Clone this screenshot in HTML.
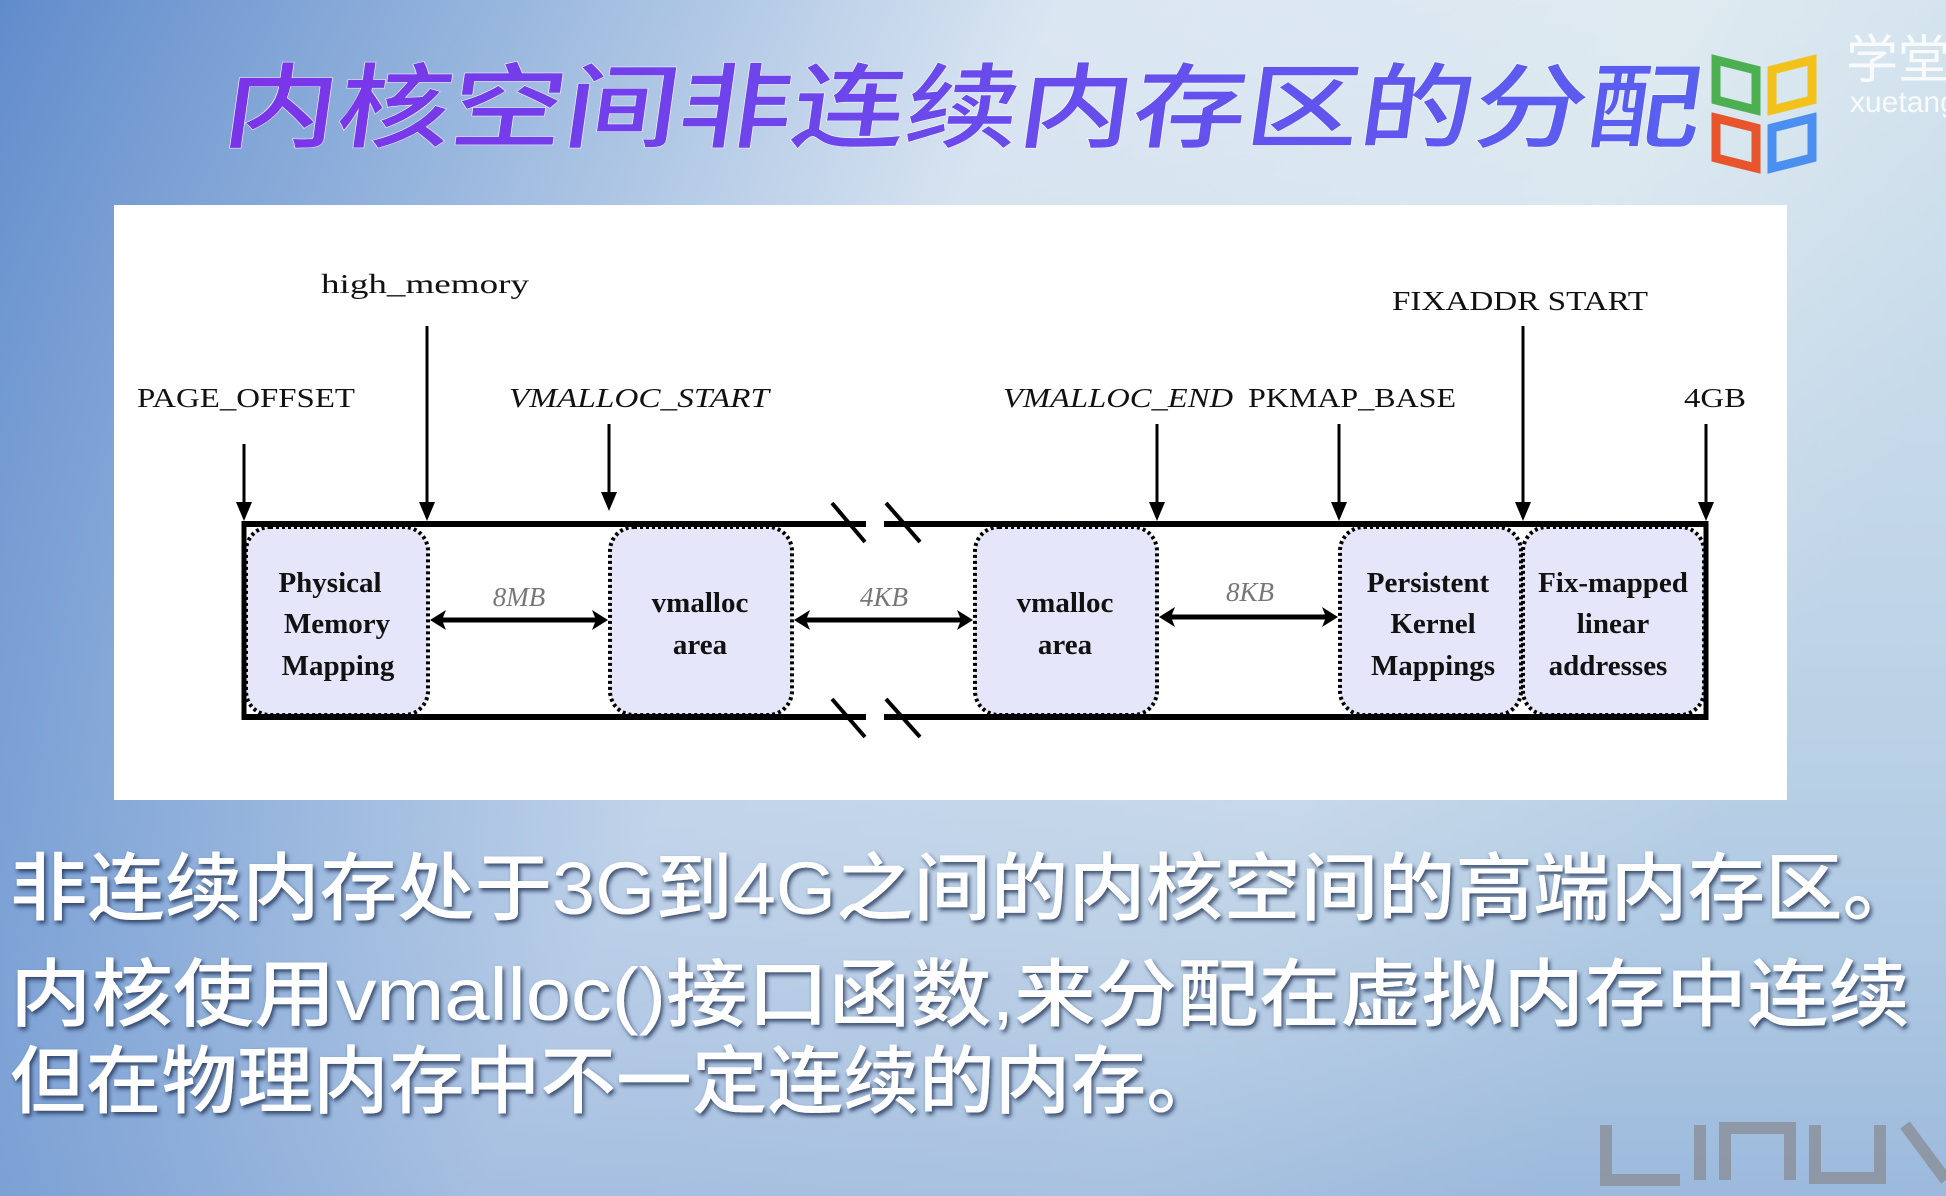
<!DOCTYPE html>
<html><head><meta charset="utf-8"><style>
html,body{margin:0;padding:0;width:1946px;height:1196px;overflow:hidden}
svg{display:block}
</style></head><body>
<svg width="1946" height="1196" viewBox="0 0 1946 1196" xmlns="http://www.w3.org/2000/svg">
<defs>
<linearGradient id="bg" x1="0" y1="0" x2="1" y2="0.3">
<stop offset="0" stop-color="#4f7fc6"/>
<stop offset="0.25" stop-color="#8fb0db"/>
<stop offset="0.5" stop-color="#d6e3f0"/>
<stop offset="0.8" stop-color="#dbe8ef"/>
<stop offset="1" stop-color="#c8dcea"/>
</linearGradient>
<linearGradient id="bg2" x1="0" y1="0" x2="0" y2="1">
<stop offset="0" stop-color="#ffffff" stop-opacity="0.1"/>
<stop offset="0.7" stop-color="#6a93cf" stop-opacity="0.2"/>
<stop offset="1" stop-color="#4a7ac4" stop-opacity="0.35"/>
</linearGradient>
<linearGradient id="tg" x1="0" y1="0" x2="1" y2="0">
<stop offset="0" stop-color="#7b34e8"/>
<stop offset="1" stop-color="#5860f0"/>
</linearGradient>
<filter id="sh"><feDropShadow dx="2" dy="3" stdDeviation="2" flood-color="#1a2a50" flood-opacity="0.8"/></filter>
</defs>
<rect width="1946" height="1196" fill="url(#bg)"/>
<rect width="1946" height="1196" fill="url(#bg2)"/>
<!-- title -->
<text x="223" y="140" textLength="1477" lengthAdjust="spacingAndGlyphs" font-family="'Noto Sans CJK SC',sans-serif" font-size="92" font-weight="500" fill="url(#tg)" transform="skewX(-8) translate(17,0)" stroke="#ffffff" stroke-width="1" paint-order="stroke">内核空间非连续内存区的分配</text>
<!-- logo -->
<g stroke-width="9" fill="none">
<path d="M1716 60 L1756 70 L1756 110 L1716 100 Z" stroke="#4caf50"/>
<path d="M1772 70 L1812 60 L1812 100 L1772 110 Z" stroke="#f2c21b"/>
<path d="M1716 118 L1756 128 L1756 168 L1716 158 Z" stroke="#e8542c"/>
<path d="M1772 128 L1812 118 L1812 158 L1772 168 Z" stroke="#4b8ff0"/>
</g>
<text x="1846" y="78" font-family="'Noto Sans CJK SC',sans-serif" font-size="52" fill="#ffffff" opacity="0.85">学堂</text>
<text x="1850" y="112" font-family="'Liberation Sans',sans-serif" font-size="30" fill="#ffffff" opacity="0.85">xuetang</text>
<!-- white panel -->
<rect x="114" y="205" width="1673" height="595" fill="#ffffff"/>
<!-- labels -->
<g font-family="'Liberation Serif',serif" font-size="27" fill="#111">
<text x="321" y="293" textLength="208" lengthAdjust="spacingAndGlyphs">high_memory</text>
<text x="137" y="407" textLength="218" lengthAdjust="spacingAndGlyphs">PAGE_OFFSET</text>
<text x="509" y="407" font-style="italic" textLength="260" lengthAdjust="spacingAndGlyphs">VMALLOC_START</text>
<text x="1003" y="407" font-style="italic" textLength="230" lengthAdjust="spacingAndGlyphs">VMALLOC_END</text>
<text x="1248" y="407" textLength="208" lengthAdjust="spacingAndGlyphs">PKMAP_BASE</text>
<text x="1392" y="310" textLength="256" lengthAdjust="spacingAndGlyphs">FIXADDR  START</text>
<text x="1684" y="407" textLength="62" lengthAdjust="spacingAndGlyphs">4GB</text>
</g>
<!-- boxes -->
<g fill="#e6e6fa" stroke="#000" stroke-width="4" stroke-dasharray="3,3">
<rect x="246" y="527" width="182" height="188" rx="24"/>
<rect x="610" y="527" width="182" height="188" rx="24"/>
<rect x="975" y="527" width="182" height="188" rx="24"/>
<rect x="1340" y="527" width="181" height="188" rx="24"/>
<rect x="1523" y="527" width="181" height="188" rx="24"/>
</g>
<!-- frame lines -->
<g stroke="#000" stroke-width="6" fill="none">
<line x1="244" y1="524" x2="866" y2="524"/>
<line x1="884" y1="524" x2="1706" y2="524"/>
<line x1="244" y1="717" x2="866" y2="717"/>
<line x1="884" y1="717" x2="1706" y2="717"/>
<line x1="244" y1="521" x2="244" y2="720" stroke-width="5"/>
<line x1="1706" y1="521" x2="1706" y2="720" stroke-width="5"/>
</g>
<g stroke="#000" stroke-width="4">
<line x1="832" y1="503" x2="865" y2="542"/>
<line x1="886" y1="503" x2="920" y2="542"/>
<line x1="832" y1="699" x2="865" y2="737"/>
<line x1="886" y1="699" x2="920" y2="737"/>
</g>
<!-- down arrows -->
<g stroke="#000" stroke-width="3">
<line x1="244" y1="444" x2="244" y2="510"/>
<line x1="427" y1="326" x2="427" y2="510"/>
<line x1="609" y1="424" x2="609" y2="500"/>
<line x1="1157" y1="424" x2="1157" y2="510"/>
<line x1="1339" y1="424" x2="1339" y2="510"/>
<line x1="1523" y1="326" x2="1523" y2="510"/>
<line x1="1706" y1="424" x2="1706" y2="510"/>
</g>
<g fill="#000">
<path d="M236 502 L252 502 L244 521 Z"/>
<path d="M419 502 L435 502 L427 521 Z"/>
<path d="M601 492 L617 492 L609 511 Z"/>
<path d="M1149 502 L1165 502 L1157 521 Z"/>
<path d="M1331 502 L1347 502 L1339 521 Z"/>
<path d="M1515 502 L1531 502 L1523 521 Z"/>
<path d="M1698 502 L1714 502 L1706 521 Z"/>
</g>
<!-- double arrows -->
<g stroke="#000" stroke-width="5">
<line x1="436" y1="620" x2="602" y2="620"/>
<line x1="800" y1="620" x2="967" y2="620"/>
<line x1="1165" y1="617" x2="1332" y2="617"/>
</g>
<g fill="#000">
<path d="M430 620 L446 610 L442 620 L446 630 Z"/><path d="M608 620 L592 610 L596 620 L592 630 Z"/>
<path d="M794 620 L810 610 L806 620 L810 630 Z"/><path d="M973 620 L957 610 L961 620 L957 630 Z"/>
<path d="M1159 617 L1175 607 L1171 617 L1175 627 Z"/><path d="M1338 617 L1322 607 L1326 617 L1322 627 Z"/>
</g>
<g font-family="'Liberation Serif',serif" font-size="27" fill="#777" font-style="italic" text-anchor="middle">
<text x="519" y="606">8MB</text>
<text x="884" y="606">4KB</text>
<text x="1250" y="601">8KB</text>
</g>
<!-- box text -->
<g font-family="'Liberation Serif',serif" font-size="29" font-weight="bold" fill="#111" text-anchor="middle">
<text x="330" y="592">Physical</text><text x="337" y="633">Memory</text><text x="338" y="675">Mapping</text>
<text x="700" y="612">vmalloc</text><text x="700" y="654">area</text>
<text x="1065" y="612">vmalloc</text><text x="1065" y="654">area</text>
<text x="1428" y="592">Persistent</text><text x="1433" y="633">Kernel</text><text x="1433" y="675">Mappings</text>
<text x="1613" y="592">Fix-mapped</text><text x="1613" y="633">linear</text><text x="1608" y="675">addresses</text>
</g>
<!-- bottom text -->
<g font-family="'Liberation Sans','Noto Sans CJK SC',sans-serif" font-size="74" font-weight="500" fill="#ffffff" filter="url(#sh)">
<text x="10" y="914" textLength="1910" lengthAdjust="spacingAndGlyphs">非连续内存处于3G到4G之间的内核空间的高端内存区。</text>
<text x="10" y="1020" textLength="1900" lengthAdjust="spacingAndGlyphs">内核使用vmalloc()接口函数,来分配在虚拟内存中连续</text>
<text x="10" y="1107" textLength="1212" lengthAdjust="spacingAndGlyphs">但在物理内存中不一定连续的内存。</text>
</g>
<!-- LINUX watermark -->
<g fill="none" stroke="#8a8f99" stroke-width="12" opacity="0.8">
<path d="M1606 1125 L1606 1180 L1680 1180"/>
<path d="M1700 1125 L1700 1180"/>
<path d="M1725 1180 L1725 1128 L1790 1128 L1790 1180"/>
<path d="M1815 1125 L1815 1178 L1880 1178 L1880 1125"/>
<path d="M1905 1125 L1946 1180"/>
</g>
</svg>
</body></html>
